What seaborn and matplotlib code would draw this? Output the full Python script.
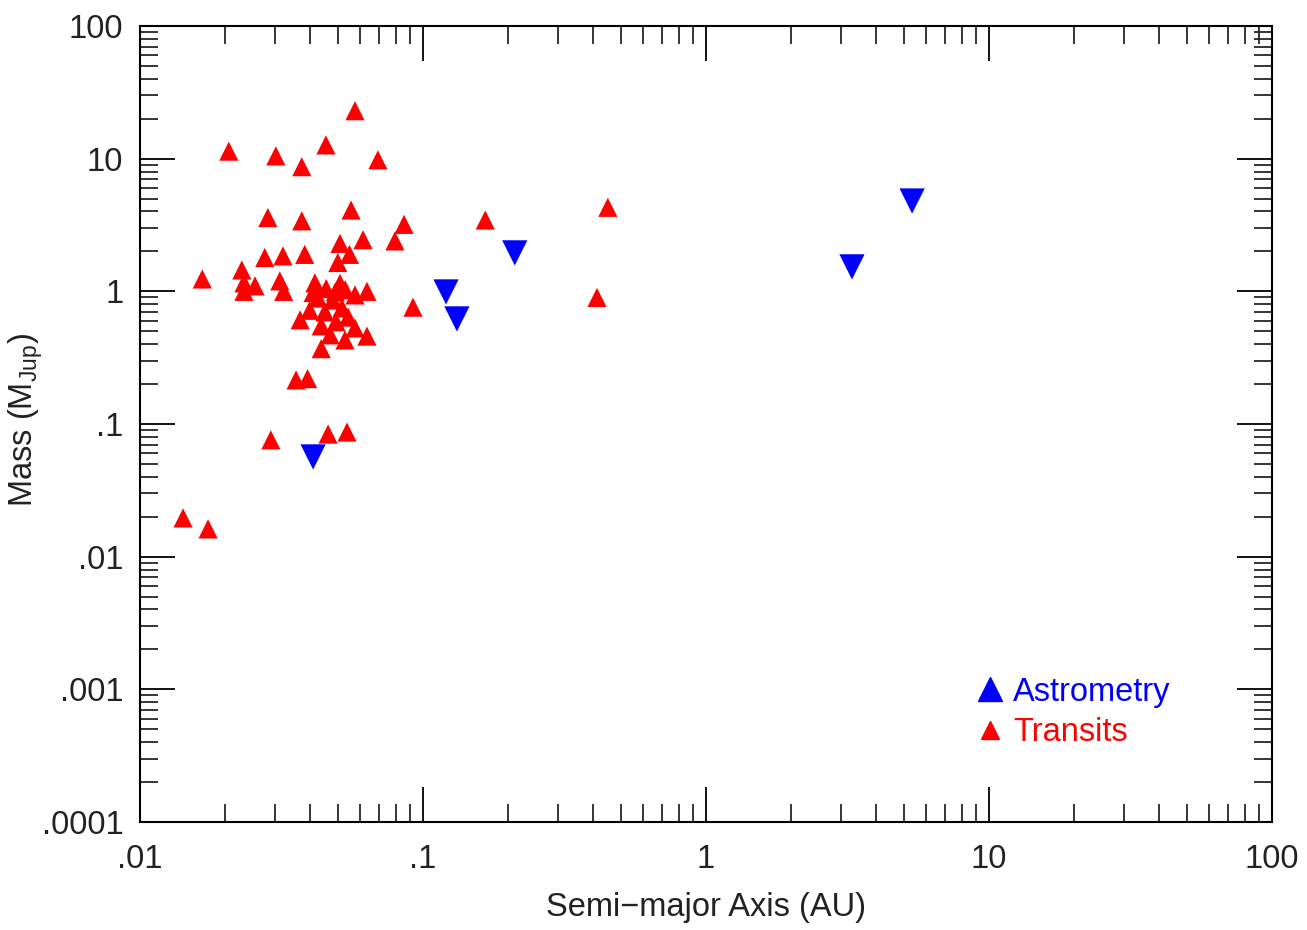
import numpy as np
import pandas as pd
import seaborn as sns
import matplotlib
matplotlib.use("Agg")
import matplotlib.pyplot as plt
from matplotlib.lines import Line2D

# transit planets: semi-major axis (AU) and mass (M_Jup)
transit_a = [0.0575, 0.0206, 0.0302, 0.0454, 0.0373, 0.0693, 0.0283, 0.0373, 0.0557, 0.0857,
             0.0796, 0.0614, 0.0509, 0.0276, 0.032, 0.0382, 0.050, 0.055, 0.0166, 0.0229,
             0.0233, 0.0233, 0.0255, 0.0312, 0.0322, 0.0409, 0.0531, 0.0634, 0.0922, 0.0634,
             0.0437, 0.0356, 0.0391, 0.029, 0.0462, 0.0539, 0.0142, 0.0174, 0.166, 0.45,
             0.412, 0.0368, 0.0398, 0.0426, 0.045, 0.048, 0.0493, 0.0517, 0.0544, 0.0575,
             0.047, 0.0509, 0.0575, 0.0415, 0.053, 0.0437, 0.049, 0.0455]
transit_m = [23, 11.4, 10.5, 12.7, 8.7, 9.8, 3.6, 3.4, 4.1, 3.2,
             2.4, 2.45, 2.3, 1.8, 1.85, 1.9, 1.65, 1.9, 1.24, 1.45,
             1.16, 1.0, 1.1, 1.2, 1.0, 0.98, 1.03, 1.0, 0.76, 0.46,
             0.37, 0.215, 0.22, 0.076, 0.084, 0.087, 0.0196, 0.0162, 3.45, 4.3,
             0.9, 0.61, 0.72, 0.89, 0.70, 0.86, 0.59, 0.75, 0.64, 0.53,
             0.47, 1.15, 0.94, 1.16, 0.43, 0.55, 0.99, 1.05]

# astrometry (upper limits, drawn as down triangles)
astro_a = [5.35, 3.28, 0.211, 0.1206, 0.1318, 0.0409]
astro_m = [4.8, 1.53, 1.95, 0.99, 0.62, 0.0565]

x_ticks = [0.01, 0.1, 1, 10, 100]
x_labels = [".01", ".1", "1", "10", "100"]
y_ticks = [0.0001, 0.001, 0.01, 0.1, 1, 10, 100]
y_labels = [".0001", ".001", ".01", ".1", "1", "10", "100"]

transits = pd.DataFrame({"a": transit_a, "m": transit_m})
astro = pd.DataFrame({"a": astro_a, "m": astro_m})

sns.set_style("white")
plt.rcParams["font.family"] = ["Liberation Sans", "DejaVu Sans"]
plt.rcParams["mathtext.fontset"] = "custom"
plt.rcParams["mathtext.rm"] = "Liberation Sans"
plt.rcParams["mathtext.it"] = "Liberation Sans"

fig = plt.figure(figsize=(13.07, 9.30), dpi=100)
ax = fig.add_axes([0.1071, 0.1161, 0.8661, 0.8559])

sns.scatterplot(data=transits, x="a", y="m", marker="^", s=190, color="#ff0000",
                edgecolor="none", linewidth=0, ax=ax)
sns.scatterplot(data=astro, x="a", y="m", marker="v", s=330, color="#0000ff",
                edgecolor="none", linewidth=0, ax=ax)

ax.set_xscale("log")
ax.set_yscale("log")
ax.set_xlim(0.01, 100)
ax.set_ylim(0.0001, 100)
ax.set_xticks(x_ticks)
ax.set_xticklabels(x_labels)
ax.set_yticks(y_ticks)
ax.set_yticklabels(y_labels)

ax.tick_params(which="major", direction="in", length=25, width=1.3,
               bottom=True, left=True, top=True, right=True,
               labelsize=23.5, colors="black")
ax.tick_params(which="minor", direction="in", length=13, width=1.3,
               bottom=True, left=True, top=True, right=True)
ax.tick_params(axis="x", which="major", pad=16, labelcolor="#222222")
ax.tick_params(axis="y", which="major", pad=12, labelcolor="#222222")
for sp in ax.spines.values():
    sp.set_linewidth(1.5)
    sp.set_color("black")

ax.set_xlabel("Semi\u2212major Axis (AU)", fontsize=23.5, color="#222222", labelpad=12)
ax.set_ylabel("Mass (M$_{\\rm Jup}$)", fontsize=23.5, color="#222222")
ax.yaxis.set_label_coords(-0.084, 0.505)

handles = [
    Line2D([], [], marker="^", linestyle="none", color="#0000ff", markersize=17),
    Line2D([], [], marker="^", linestyle="none", color="#ff0000", markersize=13),
]
ax.legend(handles, ["Astrometry", "Transits"], loc="lower left",
          bbox_to_anchor=(0.728, 0.076), frameon=False, fontsize=23.5,
          labelcolor=["#0000ff", "#ff0000"], handlelength=0.8,
          handletextpad=0.3, labelspacing=0.3, borderaxespad=0)

fig.savefig("out.png", dpi=100)
